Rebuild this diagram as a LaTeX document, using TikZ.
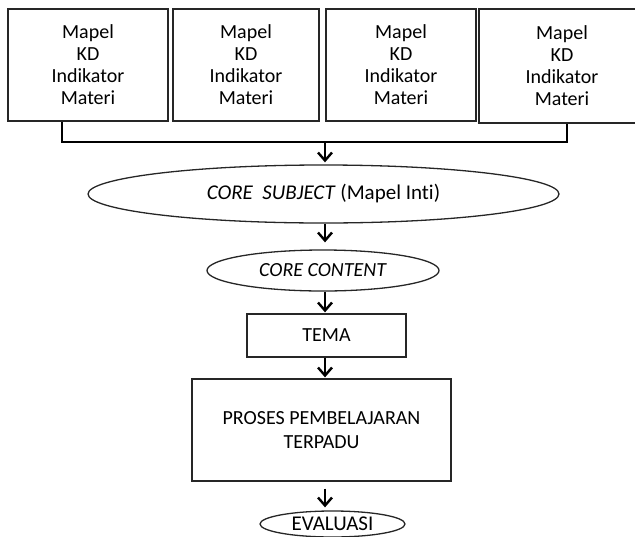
\documentclass[tikz,border=0pt]{standalone}
\usepackage{fontspec}
\setmainfont{Carlito}[Ligatures=NoCommon]
\usetikzlibrary{shapes.geometric,arrows.meta}
\begin{document}
\begin{tikzpicture}[x=1pt,y=-1pt,
  every node/.style={font=\fontsize{20}{22}\selectfont, inner sep=0pt, align=center, text=black},
  kdbox/.style={draw=black!85, line width=1.3pt, rectangle},
  oval/.style={draw=black!85, line width=1.3pt, ellipse},
  bracket/.style={line width=2.4pt, black},
  flow/.style={line width=2.4pt, black, -{Straight Barb[length=8pt,width=14pt,line width=2.4pt]}}
]
\useasboundingbox (0,0) rectangle (635,536);

% subject boxes
\node[kdbox, minimum width=160pt, minimum height=112pt] (b1) at (88,65) {Mapel\\KD\\Indikator\\Materi};
\node[kdbox, minimum width=146pt, minimum height=112pt] (b2) at (246,65) {Mapel\\KD\\Indikator\\Materi};
\node[kdbox, minimum width=150pt, minimum height=112pt] (b3) at (401,65) {Mapel\\KD\\Indikator\\Materi};
\node[kdbox, minimum width=166pt, minimum height=114pt] (b4) at (562,66) {Mapel\\KD\\Indikator\\Materi};

% flow nodes
\node[oval, minimum width=471pt, minimum height=58pt, font=\fontsize{21}{24}\selectfont] (cs) at (323.5,194) {\textit{CORE\ \ SUBJECT} (Mapel Inti)};
\node[oval, minimum width=232pt, minimum height=41pt] (cc) at (323,270.5) {\textit{CORE CONTENT}};
\node[kdbox, minimum width=159pt, minimum height=43pt] (tema) at (326.5,335.5) {TEMA};
\node[kdbox, minimum width=259pt, minimum height=102pt, font=\fontsize{20}{24}\selectfont] (proses) at (321.5,430) {PROSES PEMBELAJARAN\\TERPADU};
\node[oval, minimum width=145pt, minimum height=26pt, font=\fontsize{21}{24}\selectfont] (eval) at (332.5,524) {EVALUASI};

% collecting bracket
\coordinate (j1) at (62,142);
\coordinate (j4) at (567,142);
\coordinate (jm) at (325,142);
\draw[bracket] (j1 |- b1.south) -- (j1) -- (j4) -- (j4 |- b4.south);

% arrows
\draw[flow, shorten >=2pt] (jm) -- (jm |- cs.north);
\draw[flow, shorten >=7pt] (cs.south -| jm) -- (jm |- cc.north);
\draw[flow, shorten >=1pt] (cc.south -| jm) -- (jm |- tema.north);
\draw[flow, shorten >=1pt] (tema.south -| jm) -- (jm |- proses.north);
\draw[flow, shorten <=7pt, shorten >=3pt] (proses.south -| jm) -- (jm |- eval.north);
\end{tikzpicture}
\end{document}
